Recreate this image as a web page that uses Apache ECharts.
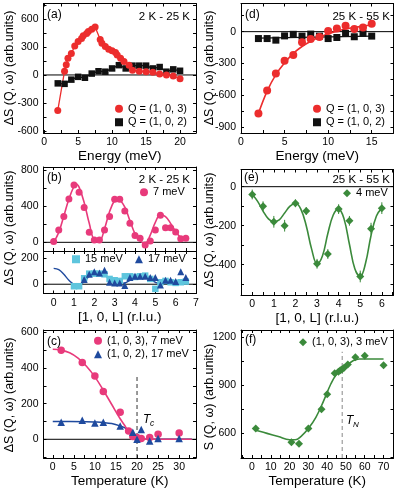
<!DOCTYPE html>
<html>
<head>
<meta charset="utf-8">
<script src="https://cdn.jsdelivr.net/npm/echarts@6/dist/echarts.min.js"></script>
<style>
html,body{margin:0;padding:0;background:#fff}
#chart{width:398px;height:489px}
</style>
</head>
<body>
<div id="chart"></div>
<script>
// ---- (a) 2 K - 25 K, energy scans
var aRedE = [2,3,3.25,3.5,4,4.5,5,5.5,5.75,6.25,6.5,7,7.5,8.25,8.5,9,9.5,10,10.5,10.75,11.25,11.75,12.5,13,14,15,16,17,18,19,20];
var aRedS = [-380,40,110,180,230,310,360,390,420,445,465,490,515,380,340,305,275,260,240,215,180,145,105,50,40,35,30,10,0,-10,-40];
var aBlkE = [2,3,4,5,6,7,8,9,10,11,12,13,14,15,16,17,18,19,20];
var aBlkS = [-90,-95,-50,-20,-30,15,40,35,70,105,70,100,100,100,70,85,35,60,45];
// ---- (d) 25 K - 55 K, energy scans
var dE = [2,3,4,5,6,7,8,9,10,11,12,13,14,15];
var dRedS = [-770,-555,-395,-275,-220,-100,-70,-50,5,30,55,25,40,75];
var dRedFit = [-770,-560,-405,-295,-205,-140,-90,-50,-20,5,25,40,52,62];
var dBlkS = [-65,-65,-80,-40,-25,-42,-23,-42,-65,-55,-16,-48,-16,-42];
var dBlkFitE = [2,15];
var dBlkFit = [-60,-42];
// ---- (b) L scans, 7 meV (top) and 15 / 17 meV (bottom)
var bL = [0,0.25,0.5,0.75,1,1.25,1.5,1.75,2,2.25,2.5,2.75,3,3.25,3.5,3.75,4,4.25,4.5,4.75,5,5.25,5.5,5.75,6,6.25,6.5];
var b7S = [10,135,285,480,635,555,385,110,25,25,135,285,475,475,345,210,75,45,-30,15,135,300,160,160,115,40,45];
var b7FitL = [0,0.25,0.5,0.75,1,1.1,1.25,1.5,1.75,2,2.25,2.5,2.75,3,3.15,3.25,3.5,3.75,4,4.25,4.5,4.75,5,5.25,5.5,5.75,6,6.25,6.5];
var b7Fit = [0,110,290,480,620,645,610,440,210,30,20,150,340,465,480,470,390,240,95,15,-10,80,220,305,285,210,120,55,35];
var bLowFit = [120,110,75,30,0,-5,20,60,85,85,70,40,15,5,10,30,50,55,50,35,15,5,10,20,25,25,25];
var b15L = [1,1.25,1.5,1.75,2,2.25,2.5,2.75,3,3.25,3.5,3.75,4,4.25,4.5,4.75,5,5.25,5.5,5.75,6,6.25,6.5];
var b15S = [-15,-15,45,80,80,80,75,40,30,25,60,60,55,60,65,40,-35,15,25,15,10,15,20];
var b17L = [1.5,1.75,2,2.25,2.5,2.75,3,3.25,3.5,3.75,4,4.25,4.5,4.75,5,5.25,5.5,5.75,6,6.25,6.5];
var b17S = [35,75,95,85,105,15,10,10,-10,50,60,60,60,50,50,-5,30,30,20,95,50];
// ---- (e) L scan, 4 meV
var eL = [0,0.5,1,1.5,2,2.5,3,3.5,4,4.5,5,5.5,6];
var eS = [-40,-100,-180,-200,-85,-125,-395,-345,-115,-175,-460,-215,-110];
var eErr = [25,25,30,30,20,20,25,25,25,25,30,30,30];
var eFitL = [0,0.25,0.5,0.75,1,1.25,1.5,1.75,2,2.25,2.5,2.75,3,3.25,3.5,3.75,4,4.25,4.5,4.75,5,5.25,5.5,5.75,6];
var eFit = [-40,-75,-125,-165,-180,-170,-135,-100,-85,-115,-200,-320,-395,-355,-240,-145,-115,-165,-295,-420,-460,-390,-250,-150,-110];
// ---- (c) temperature, 2 K - 25 K difference
var cPinkT = [2,7,10,12,16,18,19,20,21,23,25,30];
var cPinkS = [500,430,355,268,152,47,15,10,5,10,28,35];
var cPinkErr = [15,15,15,15,15,10,10,10,10,10,10,10];
var cPinkFitT = [0,2,4,6,8,10,12,14,16,17,18,19,20,21,22,25,30,33];
var cPinkFit = [505,500,485,455,410,350,275,195,115,80,45,20,5,0,0,0,0,0];
var cBlueT = [2,7,10,12,16,19,20,21,23,25,30];
var cBlueS = [95,107,92,95,75,40,0,55,-10,5,5];
var cBlueErr = [10,10,10,10,10,10,10,10,10,10,10];
var cBlueFitT = [0,4,8,10,12,14,16,17,18,19,20,21,22,25,30,33];
var cBlueFit = [100,100,99,97,94,88,75,65,50,33,15,5,0,0,0,0];
var cTc = 20, cTcTop = 360;
// ---- (f) temperature, 3 meV
var fT = [2,21,25,30,37,40,44,46,47,48,49,51,55,60,70];
var fS = [630,545,535,630,750,845,975,985,995,1000,1010,1030,1075,1085,1025];
var fErr = [15,15,15,15,15,15,15,15,15,15,15,15,15,15,15];
var fFitT = [2,8,14,20,23,26,30,34,38,42,45,48,51,54,57,60,65,70];
var fFit = [620,600,580,560,560,580,630,700,800,910,970,1000,1030,1055,1065,1065,1065,1065];
var fTN = 48, fTNTop = 1110;
// ---- tick labels
var aTicksX = [0,5,10,15,20], aTicksY = [-600,-300,0,300,600];
var dTicksX = [0,5,10,15], dTicksY = [-900,-600,-300,0];
var bTicksX = [0,1,2,3,4,5,6,7], b1TicksY = [0,400,800], b2TicksY = [0,200];
var eTicksX = [0,1,2,3,4,5,6], eTicksY = [-400,-200,0];
var cTicksX = [0,5,10,15,20,25,30], cTicksY = [0,200,400,600];
var fTicksX = [0,10,20,30,40,50,60,70], fTicksY = [600,900,1200];

var FONT = 'Liberation Sans, Arial, sans-serif';
var RED = '#ec2d2d', BLK = '#111111', PINK = '#e83a7b', CYAN = '#5ec5dd', BLUE = '#1f4a9e', GREEN = '#3b8a3b';

var grids = [], xAxes = [], yAxes = [], series = [];

function withMinor(ticks, r) {
  var out = ticks.slice(), h = (ticks[1] - ticks[0]) / 2;
  for (var i = 0; i < ticks.length - 1; i++) out.push(ticks[i] + h);
  if (ticks[0] - h >= r[0]) out.push(ticks[0] - h);
  if (ticks[ticks.length - 1] + h <= r[1]) out.push(ticks[ticks.length - 1] + h);
  return out;
}
function makeAxis(gi, r, ticks, pos, labels, name, gap) {
  return {
    type: 'value', gridIndex: gi, min: r[0], max: r[1], position: pos,
    name: name || '', nameLocation: 'middle', nameGap: gap || 0,
    nameTextStyle: {fontSize: 13.5, color: '#000', fontFamily: FONT},
    axisLine: {show: true, onZero: false, lineStyle: {color: '#000', width: 1}},
    axisTick: {show: true, inside: true, length: 3, customValues: withMinor(ticks, r), lineStyle: {color: '#000', width: 1}},
    axisLabel: {show: !!labels, customValues: ticks, margin: (pos == 'left') ? 5 : 4, fontSize: 10.5, color: '#000', fontFamily: FONT,
      formatter: function (v) { return String(v); }},
    splitLine: {show: false}
  };
}
function panel(box, xr, yr, xt, yt, xName, xGap, xLabels) {
  var gi = grids.length;
  grids.push({left: box[0], top: box[1], width: box[2], height: box[3], containLabel: false, outerBoundsMode: 'none'});
  var p = {x: xAxes.length, y: yAxes.length, xr: xr, yr: yr};
  xAxes.push(makeAxis(gi, xr, xt, 'bottom', xLabels !== false, xName, xGap));
  xAxes.push(makeAxis(gi, xr, xt, 'top', false));
  yAxes.push(makeAxis(gi, yr, yt, 'left', true));
  yAxes.push(makeAxis(gi, yr, yt, 'right', false));
  return p;
}
function pts(xs, ys) { return xs.map(function (x, i) { return [x, ys[i]]; }); }
function marks(p, name, xs, ys, sym, size, color, joined) {
  return {type: joined ? 'line' : 'scatter', name: name, xAxisIndex: p.x, yAxisIndex: p.y,
    data: pts(xs, ys), symbol: sym, symbolSize: size, showSymbol: true,
    itemStyle: {color: color, opacity: 1}, lineStyle: {color: color, width: 1.3}, z: 5};
}
function curve(p, xs, ys, color, width) {
  return {type: 'line', xAxisIndex: p.x, yAxisIndex: p.y, data: pts(xs, ys), smooth: 0.4,
    symbol: 'none', lineStyle: {color: color, width: width || 1.6}, z: 3};
}
function errBars(p, xs, ys, es, color) {
  return {type: 'custom', xAxisIndex: p.x, yAxisIndex: p.y, z: 2,
    data: xs.map(function (x, i) { return [x, ys[i], es[i]]; }),
    encode: {x: 0, y: 1},
    renderItem: function (params, api) {
      var a = api.coord([api.value(0), api.value(1) + api.value(2)]);
      var b = api.coord([api.value(0), api.value(1) - api.value(2)]);
      return {type: 'line', shape: {x1: a[0], y1: a[1], x2: b[0], y2: b[1]}, style: {stroke: color, lineWidth: 1}};
    }};
}
function zeroLine(p) {
  return {type: 'line', xAxisIndex: p.x, yAxisIndex: p.y, data: [[p.xr[0], 0], [p.xr[1], 0]],
    symbol: 'none', lineStyle: {color: '#000', width: 1}, z: 1};
}
function vLine(p, x, top, color) {
  return {type: 'line', xAxisIndex: p.x, yAxisIndex: p.y, data: [[x, p.yr[0]], [x, top]],
    symbol: 'none', lineStyle: {color: color, width: 1, type: [4, 3]}, z: 1};
}
function legend(left, top, names, icons, orient, gap) {
  return {left: left, top: top, orient: orient || 'vertical', itemWidth: 8, itemHeight: 8,
    itemGap: gap || 0, padding: 0, selectedMode: false,
    data: names.map(function (n, i) { return {name: n, icon: icons[i]}; }),
    formatter: function (n) { return n.split('|')[1]; },
    textStyle: {fontSize: 11, color: '#000', fontFamily: FONT, lineHeight: 13.5}};
}
function txt(x, y, s, size, align, extra) {
  var o = {type: 'text', x: x, y: y, z: 20,
    style: {text: s, fontSize: size, fontFamily: FONT, fill: '#000',
      align: align || 'left', verticalAlign: 'middle', textAlign: align || 'left', textVerticalAlign: 'middle'}};
  if (extra) for (var k in extra) o.style[k] = extra[k];
  return o;
}
function yName(x, y, s) {
  var o = txt(x, y, s, 12.5, 'center');
  o.rotation = Math.PI / 2;
  return o;
}

// panels
var pa = panel([43.5, 3.5, 152.5, 129.5], [-0.1, 22.35], [-622, 766], aTicksX, aTicksY, 'Energy (meV)', 13);
var pd = panel([241, 3.5, 152.5, 129.5], [0, 17.5], [-954, 265], dTicksX, dTicksY, 'Energy (meV)', 13);
var pb1 = panel([43.5, 167, 152.5, 84], [-0.5, 7], [-96, 833], bTicksX, b1TicksY, '', 0, false);
var pb2 = panel([43.5, 251, 152.5, 42.5], [-0.5, 7], [-70, 251], bTicksX, b2TicksY, '[1, 0, L] (r.l.u.)', 17);
var pe = panel([241, 169.5, 152.5, 125.5], [-0.52, 6.54], [-555, 88], eTicksX, eTicksY, '[1, 0, L] (r.l.u.)', 16);
var pc = panel([43.5, 330, 152.5, 128], [-2.2, 34], [-105, 613], cTicksX, cTicksY, 'Temperature (K)', 13);
var pf = panel([241, 330, 152.5, 128], [-5.85, 75.3], [446, 1246], fTicksX, fTicksY, 'Temperature (K)', 13);

// (a)
series.push(zeroLine(pa));
series.push(marks(pa, 'a|Q = (1, 0, 2)', aBlkE, aBlkS, 'rect', 6.5, BLK, true));
series.push(marks(pa, 'a|Q = (1, 0, 3)', aRedE, aRedS, 'circle', 7, RED, true));
// (d)
series.push(zeroLine(pd));
series.push(curve(pd, dBlkFitE, dBlkFit, BLK, 1.3));
series.push(curve(pd, dE, dRedFit, RED, 1.6));
series.push(marks(pd, 'd|Q = (1, 0, 2)', dE, dBlkS, 'rect', 7, BLK));
series.push(marks(pd, 'd|Q = (1, 0, 3)', dE, dRedS, 'circle', 8, RED));
// (b)
series.push(zeroLine(pb1));
series.push(curve(pb1, b7FitL, b7Fit, PINK, 1.6));
series.push(marks(pb1, 'b|7 meV', bL, b7S, 'circle', 7, PINK));
series.push(zeroLine(pb2));
series.push(curve(pb2, bL, bLowFit, BLUE, 1.4));
series.push(marks(pb2, 'b2|15 meV', b15L, b15S, 'rect', 6.5, CYAN));
series.push(marks(pb2, 'b2|17 meV', b17L, b17S, 'triangle', 7, BLUE));
// (e)
series.push(zeroLine(pe));
series.push(errBars(pe, eL, eS, eErr, GREEN));
series.push(curve(pe, eFitL, eFit, GREEN, 1.6));
series.push(marks(pe, 'e|4 meV', eL, eS, 'diamond', 8, GREEN));
// (c)
series.push(zeroLine(pc));
series.push(vLine(pc, cTc, cTcTop, '#333'));
series.push(curve(pc, cBlueFitT, cBlueFit, BLUE, 1.5));
series.push(curve(pc, cPinkFitT, cPinkFit, PINK, 1.6));
series.push(errBars(pc, cPinkT, cPinkS, cPinkErr, PINK));
series.push(errBars(pc, cBlueT, cBlueS, cBlueErr, BLUE));
series.push(marks(pc, 'c|(1, 0, 3), 7 meV', cPinkT, cPinkS, 'circle', 7.5, PINK));
series.push(marks(pc, 'c|(1, 0, 2), 17 meV', cBlueT, cBlueS, 'triangle', 7.5, BLUE));
// (f)
series.push(vLine(pf, fTN, fTNTop, '#888'));
series.push(errBars(pf, fT, fS, fErr, GREEN));
series.push(curve(pf, fFitT, fFit, GREEN, 1.6));
series.push(marks(pf, 'f|(1, 0, 3), 3 meV', fT, fS, 'diamond', 8, GREEN));

var legends = [
  legend(115, 102, ['a|Q = (1, 0, 3)', 'a|Q = (1, 0, 2)'], ['circle', 'rect']),
  legend(313, 102, ['d|Q = (1, 0, 3)', 'd|Q = (1, 0, 2)'], ['circle', 'rect']),
  legend(140, 185.5, ['b|7 meV'], ['circle']),
  legend(72, 252.5, ['b2|15 meV', 'b2|17 meV'], ['rect', 'triangle'], 'horizontal', 12),
  legend(343, 186.5, ['e|4 meV'], ['diamond']),
  legend(94, 334, ['c|(1, 0, 3), 7 meV', 'c|(1, 0, 2), 17 meV'], ['circle', 'triangle']),
  legend(299, 335.5, ['f|(1, 0, 3), 3 meV'], ['diamond'])
];

var graphics = [
  txt(47, 15, '(a)', 12), txt(190, 17, '2 K - 25 K', 11.5, 'right'),
  txt(245, 15, '(d)', 12), txt(390, 17, '25 K - 55 K', 11.5, 'right'),
  txt(47, 178, '(b)', 12), txt(190, 180, '2 K - 25 K', 11.5, 'right'),
  txt(244, 178, '(e)', 12), txt(390, 180, '25 K - 55 K', 11.5, 'right'),
  txt(47, 342, '(c)', 12), txt(245, 340, '(f)', 12),
  txt(143, 420, 'T', 12, 'left', {fontStyle: 'italic'}), txt(150, 424, 'c', 8.5, 'left', {fontStyle: 'italic'}),
  txt(346, 421, 'T', 12, 'left', {fontStyle: 'italic'}), txt(353, 425, 'N', 8, 'left', {fontStyle: 'italic'}),
  yName(10, 68, 'ΔS (Q, ω) (arb.units)'),
  yName(210, 68, 'ΔS (Q, ω) (arb.units)'),
  yName(10, 228, 'ΔS (Q, ω) (arb.units)'),
  yName(210, 230, 'ΔS (Q, ω) (arb.units)'),
  yName(10, 395, 'ΔS (Q, ω) (arb.units)'),
  yName(210, 397, 'S (Q, ω) (arb.units)')
];

var chart = echarts.init(document.getElementById('chart'), null, {renderer: 'canvas'});
chart.setOption({
  animation: false,
  backgroundColor: '#fff',
  textStyle: {fontFamily: FONT},
  grid: grids,
  xAxis: xAxes,
  yAxis: yAxes,
  legend: legends,
  graphic: graphics,
  series: series
});
</script>
</body>
</html>
